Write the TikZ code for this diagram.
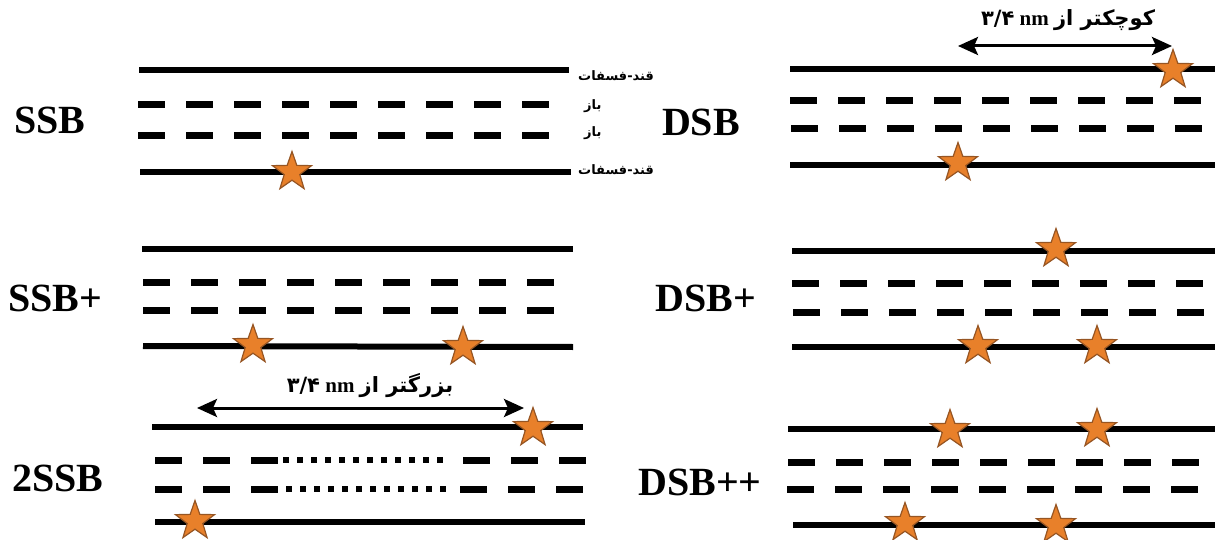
\documentclass[tikz,border=0pt]{standalone}
\usepackage{fontspec}
\setmainfont{Liberation Serif}
\newfontfamily\farsi[Script=Arabic]{DejaVu Sans}
\TeXXeTstate=1
\usetikzlibrary{shapes.geometric,arrows.meta}
\definecolor{lesionfill}{RGB}{232,128,42}
\definecolor{lesionedge}{RGB}{150,85,35}
\newcommand{\fa}[1]{{\farsi\beginR #1\endR}}

\tikzset{
  backbone/.style={line width=6pt},
  bases/.style={line width=7pt, dash pattern=on 27pt off 21pt},
  gapdots/.style={line width=6pt, dash pattern=on 6pt off 8pt},
  lesion/.style={star, star points=5, star point ratio=2.5, minimum size=41pt,
    inner sep=0pt, fill=lesionfill, draw=lesionedge, line width=1.2pt},
  tag/.style={font=\fontsize{40}{40}\selectfont\bfseries, inner sep=0pt},
  part/.style={font=\farsi\fontsize{13}{13}\selectfont\bfseries, anchor=west, inner sep=0pt},
  measure/.style={font=\fontsize{21}{21}\selectfont\bfseries, inner sep=0pt},
  span/.style={arrows={Stealth[length=20pt,width=18pt,inset=4pt]-Stealth[length=20pt,width=18pt,inset=4pt]}, line width=3pt},
}

\begin{document}
\begin{tikzpicture}[x=1pt,y=-1pt]
\useasboundingbox (0,0) rectangle (1215,540);

% SSB
\node[tag] (ssb) at (50,120) {SSB};
\draw[backbone] (139,70) -- (569,70);
\draw[bases] (138,105) -- (555,105);
\draw[bases] (138,136) -- (555,136);
\draw[backbone] (140,172) -- (571,172);
\node[part] (ssb-p1) at (578,76) {\fa{قند-فسفات}};
\node[part] (ssb-b1) at (584,106) {\fa{باز}};
\node[part] (ssb-b2) at (584,133) {\fa{باز}};
\node[part] (ssb-p2) at (578,170) {\fa{قند-فسفات}};
\node[lesion] (ssb-l1) at (292,172) {};

% DSB
\node[tag] (dsb) at (701,122) {DSB};
\draw[backbone] (790,69) -- (1215,69);
\draw[bases] (790,101) -- (1210,101);
\draw[bases] (791,129) -- (1210,129);
\draw[backbone] (790,165) -- (1215,165);
\node[lesion] (dsb-l1) at (1173,70) {};
\node[lesion] (dsb-l2) at (958,163) {};
\coordinate (dsb-a) at (958,46);
\coordinate (dsb-b) at (1172,46);
\draw[span] (dsb-a) -- (dsb-b);
\node[measure] (dsb-txt) at (1068,20) {{\farsi ۳/۴}~nm~\fa{کوچکتر از}};

% SSB+
\node[tag] (ssbp) at (55,298) {SSB+};
\draw[backbone] (142,249) -- (573,249);
\draw[bases] (143,282) -- (560,282);
\draw[bases] (143,310) -- (560,310);
\draw[backbone] (143,346) -- (573,347);
\node[lesion] (ssbp-l1) at (253,345) {};
\node[lesion] (ssbp-l2) at (463,347) {};

% DSB+
\node[tag] (dsbp) at (706,298) {DSB+};
\draw[backbone] (792,251) -- (1215,251);
\draw[bases] (792,283) -- (1210,283);
\draw[bases] (793,312) -- (1210,312);
\draw[backbone] (792,347) -- (1215,347);
\node[lesion] (dsbp-l1) at (1056,249) {};
\node[lesion] (dsbp-l2) at (978,346) {};
\node[lesion] (dsbp-l3) at (1097,346) {};

% 2SSB
\node[tag] (tssb) at (58,478) {2SSB};
\draw[backbone] (152,427) -- (583,427);
\draw[bases] (155,460) -- (279,460);
\draw[gapdots] (283,460) -- (443,460);
\draw[bases] (463,460) -- (586,460);
\draw[bases] (155,489) -- (279,489);
\draw[gapdots] (286,489) -- (446,489);
\draw[bases] (460,489) -- (584,489);
\draw[backbone] (155,522) -- (585,522);
\node[lesion] (tssb-l1) at (533,428) {};
\node[lesion] (tssb-l2) at (195,521) {};
\coordinate (tssb-a) at (197,408);
\coordinate (tssb-b) at (524,408);
\draw[span] (tssb-a) -- (tssb-b);
\node[measure] (tssb-txt) at (370,386) {{\farsi ۳/۴}~nm~\fa{بزرگتر از}};

% DSB++
\node[tag] (dsbpp) at (700,482) {DSB++};
\draw[backbone] (788,429) -- (1215,429);
\draw[bases] (788,462) -- (1210,462);
\draw[bases] (787,489) -- (1210,489);
\draw[backbone] (793,525) -- (1215,525);
\node[lesion] (dsbpp-l1) at (950,430) {};
\node[lesion] (dsbpp-l2) at (1097,429) {};
\node[lesion] (dsbpp-l3) at (905,523) {};
\node[lesion] (dsbpp-l4) at (1056,525) {};
\end{tikzpicture}
\end{document}
